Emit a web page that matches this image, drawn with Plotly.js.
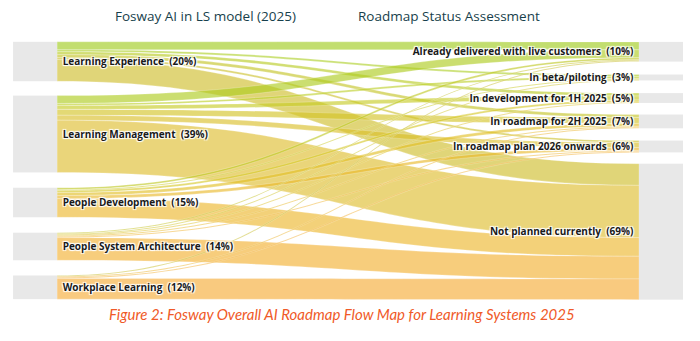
<!DOCTYPE html>
<html>
<head>
<meta charset="utf-8">
<script src="https://cdn.plot.ly/plotly-3.0.1.min.js"></script>
<style>html,body{margin:0;padding:0;background:#fff;}#chart{width:700px;height:341px;}</style>
</head>
<body>
<div id="chart"></div>
<script>
// Source nodes (left) and their shares (%)
const sourceNames = ["Learning Experience", "Learning Management", "People Development", "People System Architecture", "Workplace Learning"];
const sourcePct = [20, 39, 15, 14, 12];
// Target nodes (right) and their shares (%)
const targetNames = ["Already delivered with live customers", "In beta/piloting", "In development for 1H 2025", "In roadmap for 2H 2025", "In roadmap plan 2026 onwards", "Not planned currently"];
const targetPct = [10, 3, 5, 7, 6, 69];
// Flow matrix: rows = sources, columns = targets (estimated %)
const flowLE  = [4,   1,   1.5, 1.5, 1,   11];
const flowLM  = [4,   1,   2,   3,   2.5, 26.5];
const flowPD  = [1,   0.5, 1,   1.5, 1.5, 9.5];
const flowPSA = [0.5, 0.5, 0.5, 0.5, 0.5, 11.5];
const flowWL  = [0.5, 0,   0,   0.5, 0.5, 10.5];
const flows = [flowLE, flowLM, flowPD, flowPSA, flowWL];

// Colours
const sourceRGB = [[160,204,30],[192,204,35],[224,192,32],[240,178,42],[246,168,52]];
const targetRGB = [[160,204,30],[182,208,40],[204,204,40],[226,190,42],[240,180,50],[246,176,56]];

const nb = '\u00a0';
const labels = sourceNames.map((n,i)=>nb+'<b>'+n+nb+nb+'('+sourcePct[i]+'%)</b>')
  .concat(targetNames.map((n,i)=>'<b>'+n+nb+nb+'('+targetPct[i]+'%)</b>'+nb));

const nS = sourceNames.length;
const src=[], tgt=[], val=[], col=[];
flows.forEach((row,i)=>row.forEach((v,j)=>{
  if(v>0){
    src.push(i); tgt.push(nS+j); val.push(v);
    const a=sourceRGB[i], b=targetRGB[j];
    const m=a.map((c,k)=>Math.round(c*0.45+b[k]*0.55));
    col.push('rgba('+m[0]+','+m[1]+','+m[2]+',0.64)');
  }
}));

// node placement (layout only)
const nodeX = [0.0001,0.0001,0.0001,0.0001,0.0001, 1,1,1,1,1,1];
const nodeY = [0.0759,0.358,0.6245,0.7957,0.9545, 0.0379,0.138,0.218,0.309,0.4066,0.738];

const data=[{
  type:'sankey',
  orientation:'h',
  arrangement:'fixed',
  node:{
    label:labels,
    x:nodeX, y:nodeY,
    pad:12,
    thickness:44,
    color:labels.map(()=> '#e8e8e8'),
    line:{width:0},
    hoverinfo:'skip'
  },
  link:{
    source:src, target:tgt, value:val, color:col,
    line:{width:0.4,color:'rgba(255,255,255,0.6)'},
    hoverinfo:'skip'
  },
  textfont:{family:'Open Sans, sans-serif', size:10, color:'#1a1a1a'}
}];

const layout={
  width:700, height:341,
  margin:{l:35,r:39,t:42,b:42},
  paper_bgcolor:'#ffffff',
  font:{family:'Open Sans, sans-serif'},
  annotations:[
    {text:'Fosway AI in LS model (2025)', xref:'paper', yref:'paper', x:0.272, y:1, xanchor:'center', yanchor:'bottom', yshift:15, showarrow:false, font:{family:'Open Sans, sans-serif', size:13.5, color:'#173f4c'}},
    {text:'Roadmap Status Assessment', xref:'paper', yref:'paper', x:0.662, y:1, xanchor:'center', yanchor:'bottom', yshift:15, showarrow:false, font:{family:'Open Sans, sans-serif', size:13.5, color:'#173f4c'}},
    {text:'Figure 2: Fosway Overall AI Roadmap Flow Map for Learning Systems 2025', xref:'paper', yref:'paper', x:0.49, y:0, xanchor:'center', yanchor:'top', yshift:-4, showarrow:false, font:{family:'Lato, sans-serif', size:15, style:'italic', weight:400, color:'#f05a28'}}
  ]
};
Plotly.newPlot('chart', data, layout, {staticPlot:true, displayModeBar:false});
</script>
</body>
</html>
